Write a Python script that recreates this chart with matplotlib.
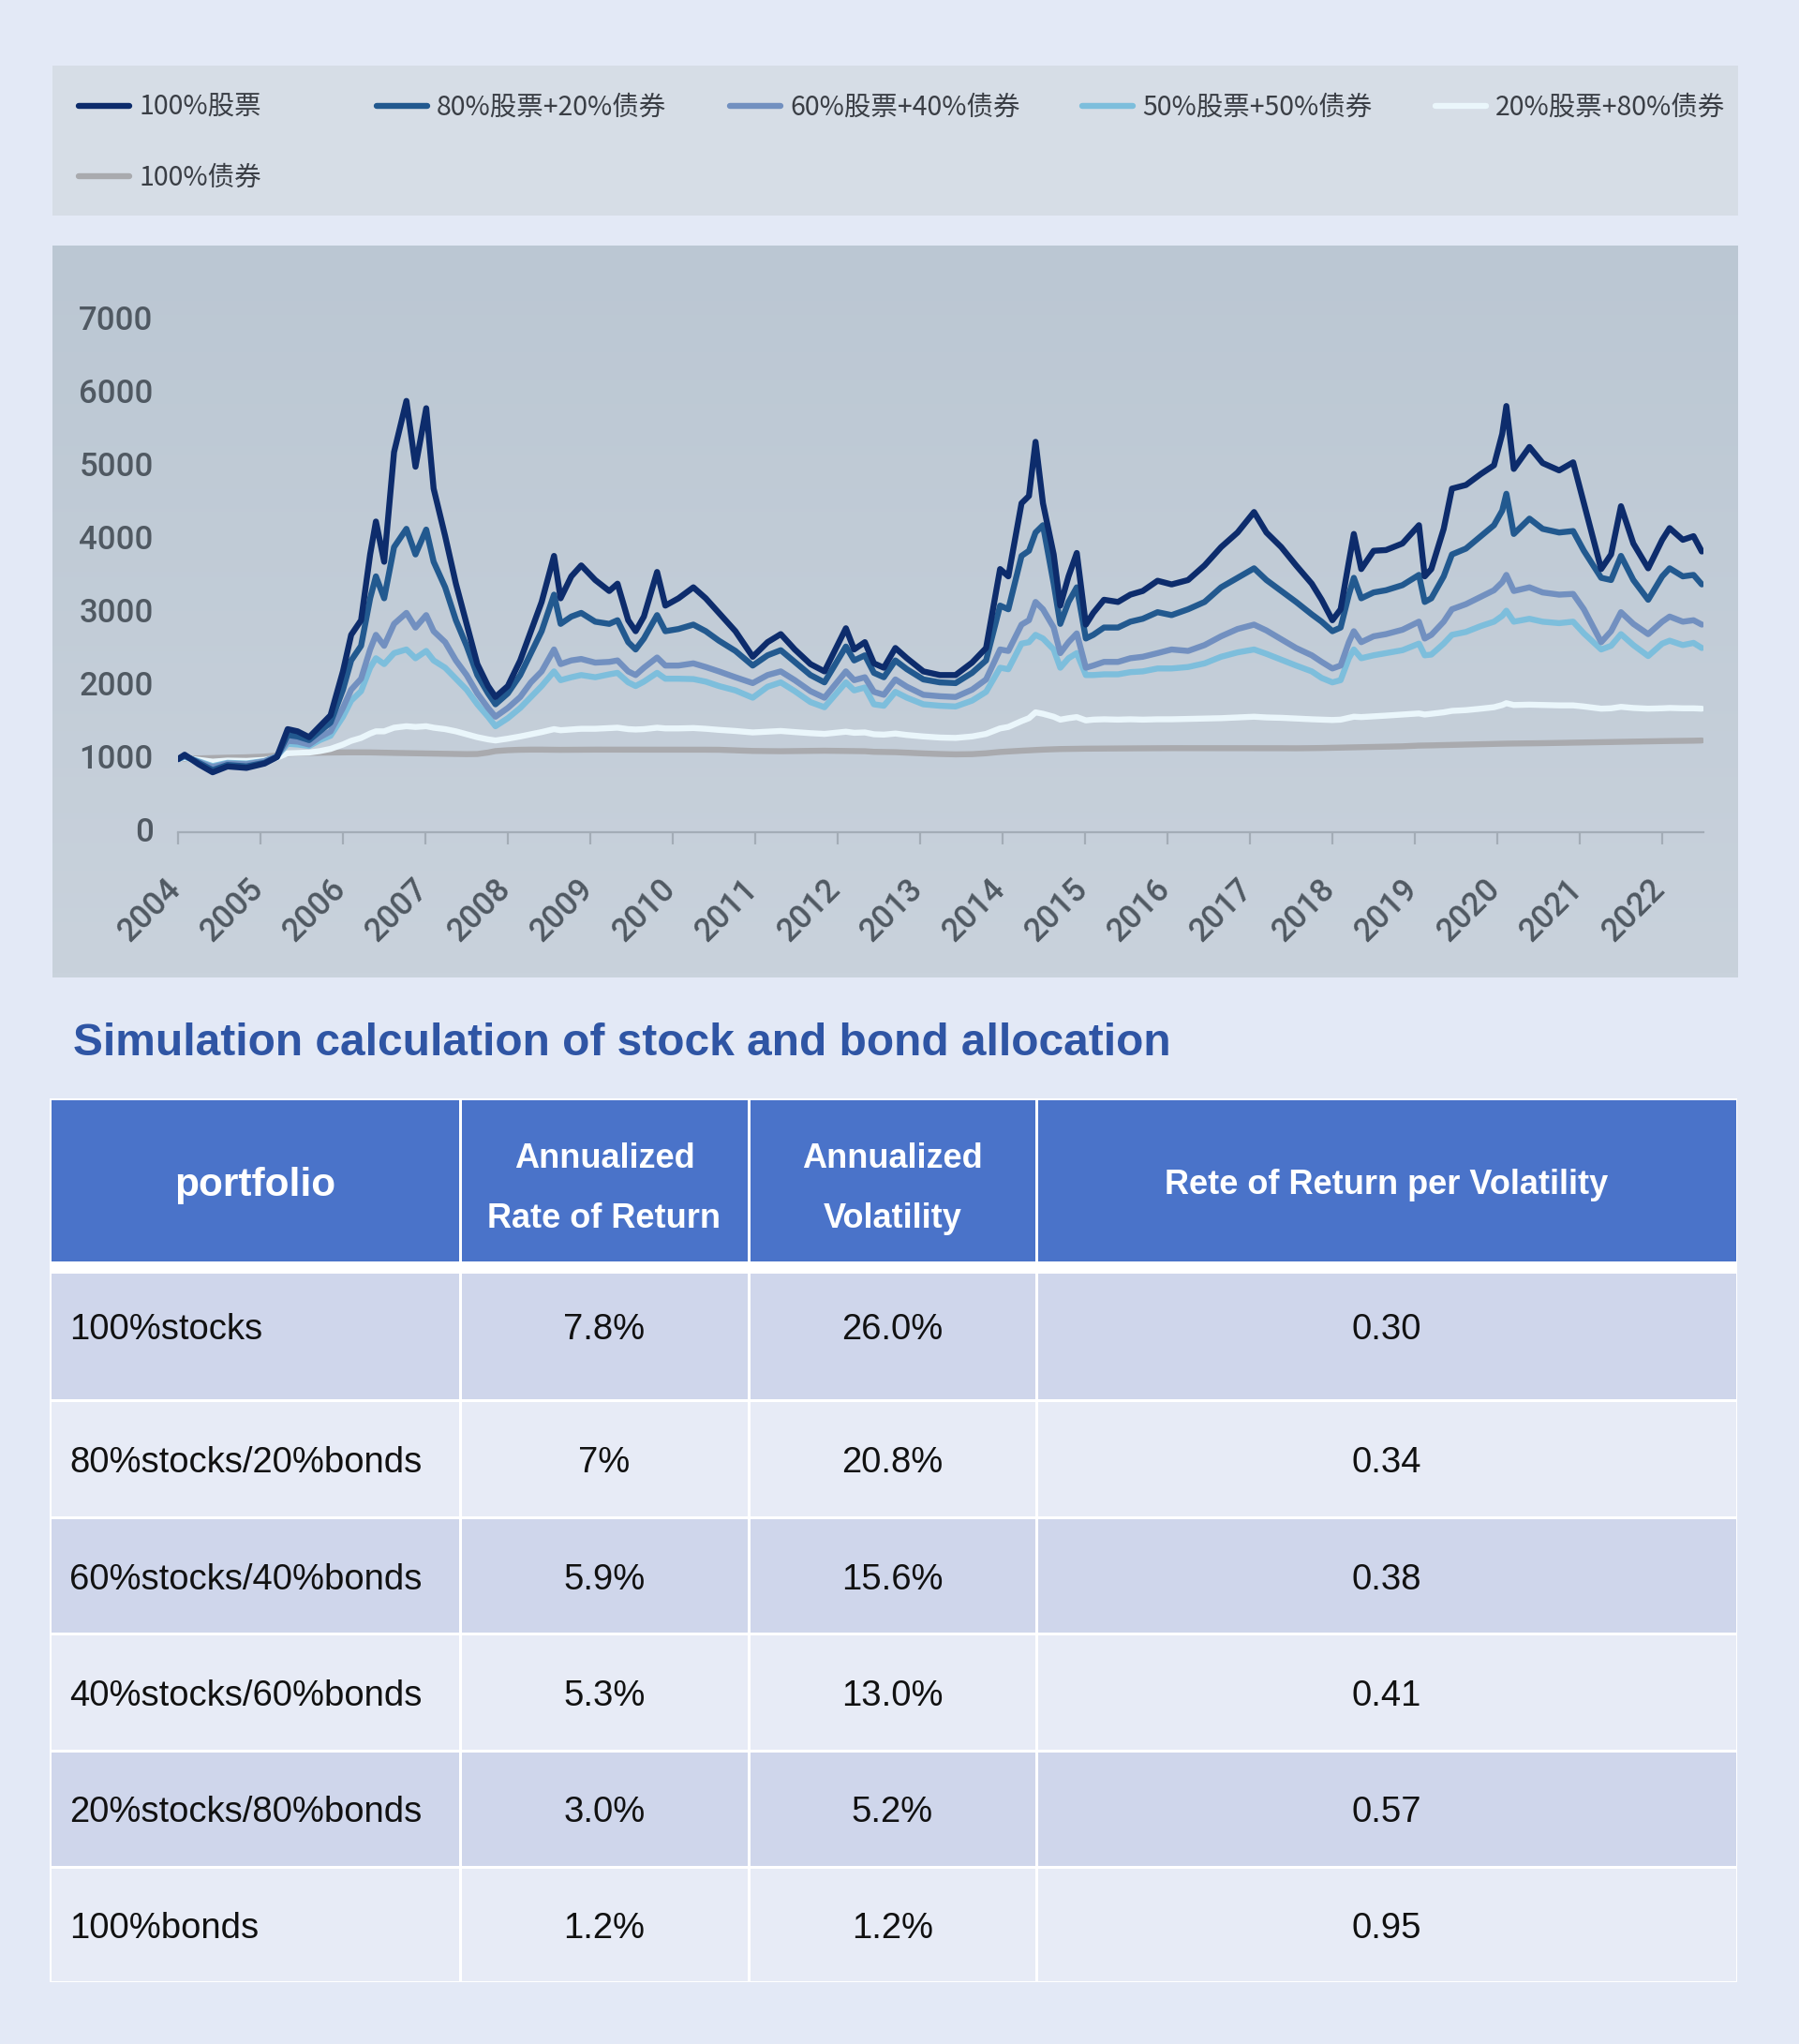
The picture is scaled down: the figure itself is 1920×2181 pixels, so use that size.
import matplotlib
matplotlib.use("Agg")
import matplotlib.pyplot as plt
import matplotlib.transforms as mtrans
from matplotlib.patches import Rectangle
from matplotlib.colors import LinearSegmentedColormap
from matplotlib.font_manager import FontProperties
import numpy as np

W, H, DPI = 1920, 2181, 100

# ---------------- data ----------------
years = [2004.00, 2004.08, 2004.25, 2004.42, 2004.60, 2004.83, 2005.05, 2005.20, 2005.33, 2005.45,
         2005.59, 2005.72, 2005.85, 2006.00, 2006.10, 2006.22, 2006.33, 2006.40, 2006.50, 2006.62,
         2006.77, 2006.88, 2007.01, 2007.10, 2007.24, 2007.37, 2007.50, 2007.63, 2007.76, 2007.85,
         2008.00, 2008.15, 2008.28, 2008.41, 2008.56, 2008.64, 2008.77, 2008.89, 2009.06, 2009.23,
         2009.33, 2009.46, 2009.55, 2009.65, 2009.81, 2009.91, 2010.07, 2010.25, 2010.40, 2010.56,
         2010.76, 2010.97, 2011.15, 2011.31, 2011.48, 2011.67, 2011.84, 2012.10, 2012.20, 2012.33,
         2012.44, 2012.56, 2012.70, 2012.84, 2013.04, 2013.24, 2013.43, 2013.63, 2013.80, 2013.97,
         2014.07, 2014.23, 2014.32, 2014.40, 2014.49, 2014.62, 2014.70, 2014.80, 2014.90, 2015.01,
         2015.10, 2015.23, 2015.40, 2015.55, 2015.70, 2015.88, 2016.05, 2016.25, 2016.45, 2016.65,
         2016.85, 2017.05, 2017.20, 2017.38, 2017.56, 2017.75, 2017.87, 2018.00, 2018.10, 2018.20,
         2018.26, 2018.35, 2018.50, 2018.65, 2018.85, 2019.05, 2019.12, 2019.20, 2019.35, 2019.45,
         2019.62, 2019.80, 2019.96, 2020.06, 2020.11, 2020.20, 2020.39, 2020.55, 2020.75, 2020.92,
         2021.05, 2021.26, 2021.38, 2021.50, 2021.65, 2021.83, 2022.00, 2022.09, 2022.25, 2022.38,
         2022.48]

stocks100 = [1000, 1060, 930, 820, 900, 880, 940, 1030, 1410, 1380,
             1300, 1450, 1600, 2200, 2700, 2900, 3800, 4250, 3700, 5200,
             5900, 5000, 5800, 4700, 4050, 3400, 2850, 2300, 2000, 1850,
             2000, 2350, 2750, 3150, 3780, 3200, 3500, 3650, 3450, 3300,
             3400, 2900, 2750, 2950, 3560, 3100, 3200, 3350, 3200, 3000,
             2750, 2400, 2600, 2710, 2500, 2300, 2200, 2790, 2500, 2600,
             2310, 2250, 2520, 2380, 2200, 2150, 2150, 2320, 2520, 3600,
             3500, 4500, 4600, 5340, 4500, 3800, 3100, 3500, 3820, 2840,
             3000, 3180, 3150, 3250, 3300, 3440, 3390, 3450, 3650, 3900,
             4100, 4380, 4100, 3900, 3650, 3400, 3180, 2900, 3050, 3700,
             4080, 3600, 3850, 3860, 3950, 4200, 3500, 3600, 4150, 4700,
             4750, 4900, 5020, 5450, 5830, 4970, 5270, 5050, 4950, 5060,
             4500, 3600, 3800, 4460, 3950, 3610, 4000, 4160, 4000, 4050,
             3840]

stocks80 = [1000, 1050, 950, 850, 920, 900, 950, 1030, 1330, 1310,
            1260, 1380, 1500, 1950, 2350, 2550, 3200, 3500, 3200, 3900,
            4150, 3800, 4140, 3700, 3350, 2900, 2550, 2150, 1900, 1750,
            1900, 2150, 2450, 2750, 3250, 2850, 2950, 3000, 2880, 2850,
            2900, 2600, 2500, 2650, 2970, 2750, 2780, 2840, 2750, 2620,
            2480, 2280, 2420, 2490, 2330, 2150, 2050, 2540, 2350, 2420,
            2180, 2120, 2350, 2230, 2090, 2050, 2040, 2180, 2350, 3100,
            3050, 3780, 3850, 4100, 4200, 3400, 2850, 3150, 3350, 2650,
            2700, 2800, 2800, 2880, 2920, 3010, 2970, 3050, 3150, 3350,
            3480, 3610, 3450, 3300, 3150, 2980, 2880, 2750, 2800, 3250,
            3480, 3200, 3280, 3310, 3380, 3520, 3150, 3200, 3500, 3800,
            3880, 4050, 4200, 4400, 4630, 4080, 4290, 4150, 4100, 4120,
            3850, 3480, 3450, 3780, 3450, 3180, 3500, 3610, 3500, 3520,
            3390]

stocks60 = [1000, 1040, 960, 890, 940, 930, 970, 1040, 1250, 1240,
            1200, 1300, 1380, 1700, 1950, 2100, 2500, 2700, 2550, 2850,
            3000, 2800, 2970, 2750, 2600, 2350, 2150, 1900, 1700, 1580,
            1700, 1850, 2050, 2200, 2500, 2300, 2350, 2370, 2320, 2330,
            2350, 2200, 2150, 2250, 2390, 2280, 2280, 2310, 2260, 2200,
            2120, 2040, 2150, 2200, 2080, 1930, 1840, 2200, 2080, 2120,
            1920, 1880, 2090, 1990, 1880, 1860, 1850, 1950, 2090, 2500,
            2480, 2840, 2900, 3150, 3050, 2800, 2450, 2600, 2720, 2250,
            2280, 2330, 2330, 2380, 2400, 2450, 2500, 2480, 2560, 2680,
            2780, 2840, 2760, 2640, 2520, 2420, 2330, 2240, 2280, 2600,
            2750, 2600, 2680, 2710, 2770, 2880, 2650, 2700, 2880, 3050,
            3120, 3220, 3310, 3420, 3520, 3300, 3350, 3280, 3250, 3260,
            3050, 2600, 2750, 3010, 2850, 2710, 2880, 2950, 2880, 2900,
            2840]

stocks50 = [1000, 1030, 970, 905, 950, 940, 975, 1040, 1210, 1200,
            1180, 1260, 1320, 1580, 1800, 1930, 2250, 2380, 2300, 2450,
            2500, 2380, 2480, 2350, 2250, 2100, 1950, 1750, 1580, 1450,
            1560, 1700, 1850, 2000, 2200, 2080, 2120, 2150, 2120, 2160,
            2180, 2050, 2000, 2060, 2180, 2100, 2100, 2095, 2060, 2000,
            1940, 1840, 1990, 2050, 1930, 1780, 1710, 2050, 1940, 1980,
            1750, 1730, 1920, 1840, 1750, 1730, 1720, 1800, 1920, 2250,
            2230, 2580, 2600, 2700, 2650, 2500, 2250, 2380, 2450, 2150,
            2150, 2160, 2160, 2190, 2200, 2240, 2240, 2260, 2310, 2400,
            2460, 2500, 2440, 2360, 2280, 2200, 2110, 2050, 2080, 2380,
            2500, 2380, 2420, 2450, 2490, 2580, 2420, 2430, 2580, 2700,
            2740, 2820, 2880, 2960, 3030, 2880, 2920, 2880, 2860, 2880,
            2720, 2500, 2550, 2710, 2560, 2410, 2580, 2620, 2560, 2590,
            2520]

stocks20 = [1000, 1015, 990, 965, 980, 975, 990, 1020, 1080, 1085,
            1090, 1110, 1140, 1200, 1250, 1290, 1350, 1380, 1380, 1430,
            1450, 1440, 1450, 1430, 1410, 1380, 1340, 1300, 1270, 1255,
            1280, 1310, 1340, 1370, 1410, 1395, 1405, 1415, 1415, 1425,
            1430, 1410, 1405, 1410, 1430, 1420, 1420, 1425, 1415, 1400,
            1385, 1365, 1375, 1385, 1370, 1355, 1345, 1375, 1360, 1365,
            1340, 1335, 1350, 1330, 1310, 1295, 1290, 1310, 1345, 1420,
            1440, 1520, 1560, 1640, 1620, 1580, 1540, 1560, 1575, 1530,
            1540, 1545, 1540, 1545, 1540, 1545, 1545, 1550, 1555, 1560,
            1570, 1580, 1570, 1565, 1555, 1545, 1540, 1535, 1540, 1565,
            1580, 1575, 1585, 1595, 1610, 1625, 1610, 1620, 1640, 1660,
            1670, 1690, 1710, 1740, 1765, 1740, 1745, 1740, 1735, 1735,
            1720, 1690, 1695, 1715, 1700, 1690, 1695, 1700, 1695, 1695,
            1690]

bonds100 = [1000, 1005, 1010, 1015, 1020, 1025, 1035, 1050, 1075, 1080,
            1085, 1088, 1090, 1092, 1093, 1093, 1092, 1090, 1088, 1085,
            1082, 1080, 1078, 1075, 1072, 1070, 1068, 1070, 1090, 1110,
            1122, 1128, 1130, 1130, 1128, 1127, 1128, 1128, 1130, 1130,
            1130, 1130, 1129, 1129, 1130, 1130, 1130, 1130, 1129, 1128,
            1120, 1112, 1110, 1108, 1110, 1112, 1115, 1112, 1110, 1108,
            1100, 1098, 1095, 1088, 1078, 1070, 1065, 1068, 1080, 1098,
            1105, 1115, 1120, 1125, 1130, 1135, 1138, 1140, 1142, 1143,
            1144, 1145, 1146, 1147, 1148, 1149, 1150, 1150, 1151, 1151,
            1151, 1150, 1150, 1149, 1148, 1150, 1152, 1155, 1157, 1160,
            1162, 1163, 1166, 1170, 1175, 1185, 1186, 1188, 1192, 1195,
            1198, 1203, 1208, 1210, 1212, 1213, 1215, 1218, 1222, 1225,
            1228, 1232, 1235, 1238, 1240, 1243, 1246, 1248, 1250, 1252,
            1255]

series_labels = ["100%股票", "80%股票+20%债券", "60%股票+40%债券",
                 "50%股票+50%债券", "20%股票+80%债券", "100%债券"]
series_colors = ["#0D2C6C", "#22598F", "#7290C0", "#7DBEDC", "#EAF6FB", "#A9AAAE"]
x_tick_years = list(range(2004, 2023))
y_ticks = list(range(0, 7001, 1000))

chart_title = "Simulation calculation of stock and bond allocation"
table_header = ["portfolio", "Annualized\nRate of Return", "Annualized\nVolatility",
                "Rete of Return per Volatility"]
portfolios = ["100%stocks", "80%stocks/20%bonds", "60%stocks/40%bonds",
              "40%stocks/60%bonds", "20%stocks/80%bonds", "100%bonds"]
ann_return = ["7.8%", "7%", "5.9%", "5.3%", "3.0%", "1.2%"]
ann_volatility = ["26.0%", "20.8%", "15.6%", "13.0%", "5.2%", "1.2%"]
return_per_vol = ["0.30", "0.34", "0.38", "0.41", "0.57", "0.95"]

series = [stocks100, stocks80, stocks60, stocks50, stocks20, bonds100]
for s in series:
    assert len(s) == len(years)

# ---------------- figure ----------------
BG = "#E3E9F6"
fig = plt.figure(figsize=(W / DPI, H / DPI), dpi=DPI, facecolor=BG)

def fx(px):
    return px / W

def fy(py):
    return 1 - py / H

# pixel-space overlay for panels / table
bg = fig.add_axes([0, 0, 1, 1], zorder=0)
bg.axis("off")
bg.add_patch(Rectangle((56, 70), 1799, 160, facecolor="#D6DDE6", edgecolor="none", zorder=1))
grad = np.linspace(0, 1, 256).reshape(-1, 1)
cmap = LinearSegmentedColormap.from_list("panel", ["#BBC7D3", "#C9D2DC"])
bg.imshow(grad, extent=(56, 1855, 1043, 262), cmap=cmap, aspect="auto", zorder=1,
          interpolation="bilinear")
bg.set_xlim(0, W)
bg.set_ylim(H, 0)

# ---------------- line chart ----------------
ax = fig.add_axes([fx(190), fy(888), (1818 - 190) / W, (888 - 342) / H], zorder=2)
ax.patch.set_alpha(0)
lines = []
for vals, col, lab in zip(series, series_colors, series_labels):
    ln, = ax.plot(years, vals, color=col, lw=4.6, label=lab, solid_joinstyle="round",
                  solid_capstyle="round")
    lines.append(ln)
for z, ln in enumerate(lines):
    ln.set_zorder(10 - z)

ax.set_xlim(2004, 2022.5)
ax.set_ylim(0, 7000)
ax.set_xticks(x_tick_years)
ax.set_xticklabels([str(y) for y in x_tick_years])
ax.set_yticks(y_ticks)
ax.set_yticklabels([str(v) for v in y_ticks])
for sp in ["top", "right", "left"]:
    ax.spines[sp].set_visible(False)
ax.spines["bottom"].set_color("#A3ACB6")
ax.spines["bottom"].set_linewidth(1.6)
TICKC = "#505962"
ax.tick_params(axis="x", length=9.5, width=1.6, color="#A3ACB6", pad=22,
               labelsize=25, labelcolor=TICKC)
ax.tick_params(axis="y", length=0, pad=19, labelsize=25, labelcolor=TICKC)
shift = mtrans.ScaledTranslation(-14 / DPI, 0, fig.dpi_scale_trans)
for lab in ax.get_xticklabels():
    lab.set_rotation(45)
    lab.set_ha("right")
    lab.set_va("top")
    lab.set_rotation_mode("anchor")
    lab.set_fontfamily("Roboto")
    lab.set_fontweight("medium")
    lab.set_transform(lab.get_transform() + shift)
for lab in ax.get_yticklabels():
    lab.set_fontfamily("Roboto")
    lab.set_fontweight("medium")
    lab.set_va("center")

# ---------------- legend (one entry per slot) ----------------
leg_pos = [(84, 115), (402, 115), (779, 115), (1155, 115), (1532, 115), (84, 190)]
leg_font = FontProperties(family="Noto Sans CJK SC", size=20.5, weight="medium")
for ln, lab, (px, py) in zip(lines, series_labels, leg_pos):
    fig.legend([ln], [lab], loc="center left", bbox_to_anchor=(fx(px), fy(py)),
               frameon=False, borderpad=0, borderaxespad=0, handlelength=1.9,
               handletextpad=0.35, prop=leg_font, labelcolor="#3A3E45")

# ---------------- title ----------------
bg.text(78, 1113, chart_title, fontsize=34.5, fontweight="bold", color="#2F55A4",
        ha="left", va="center", family="Liberation Sans", zorder=3)

# ---------------- table ----------------
cols = [53, 491, 799, 1106, 1854]
header_top, header_bot = 1172, 1347
row_edges = [1357, 1494, 1619, 1743, 1868, 1992, 2115]
row_text_y = [1419, 1561, 1686, 1810, 1934, 2058]
HEAD = "#4A73C9"
ODD, EVEN = "#CFD6EB", "#E7EBF6"
inset = 1.5

bg.add_patch(Rectangle((cols[0], header_top), cols[-1] - cols[0], row_edges[-1] - header_top,
                       facecolor="white", edgecolor="none", zorder=2))
for j in range(4):
    x0, x1 = cols[j], cols[j + 1]
    bg.add_patch(Rectangle((x0 + inset, header_top + inset), x1 - x0 - 2 * inset,
                           header_bot - header_top - 2 * inset, facecolor=HEAD,
                           edgecolor="none", zorder=3))
    for i in range(6):
        y0, y1 = row_edges[i], row_edges[i + 1]
        bg.add_patch(Rectangle((x0 + inset, y0 + inset), x1 - x0 - 2 * inset, y1 - y0 - 2 * inset,
                               facecolor=ODD if i % 2 == 0 else EVEN, edgecolor="none", zorder=3))

centers = [(cols[j] + cols[j + 1]) / 2 for j in range(4)]
hfont = dict(family="Liberation Sans", fontweight="bold", color="white", zorder=4,
             ha="center", va="center")
for j, htxt in enumerate(table_header):
    parts = htxt.split("\n")
    if len(parts) == 1:
        size = 30.5 if j == 0 else 26
        bg.text(centers[j], 1265, parts[0], fontsize=size, **hfont)
    else:
        bg.text(centers[j], 1236, parts[0], fontsize=26, **hfont)
        bg.text(centers[j], 1301, parts[1], fontsize=26, **hfont)

bfont = dict(family="Liberation Sans", color="#111111", fontsize=27.5, va="center", zorder=4)
for i in range(6):
    ty = row_text_y[i]
    bg.text(74, ty, portfolios[i], ha="left", **bfont)
    bg.text(centers[1], ty, ann_return[i], ha="center", **bfont)
    bg.text(centers[2], ty, ann_volatility[i], ha="center", **bfont)
    bg.text(centers[3], ty, return_per_vol[i], ha="center", **bfont)

fig.savefig("out.png", dpi=DPI, facecolor=BG)
